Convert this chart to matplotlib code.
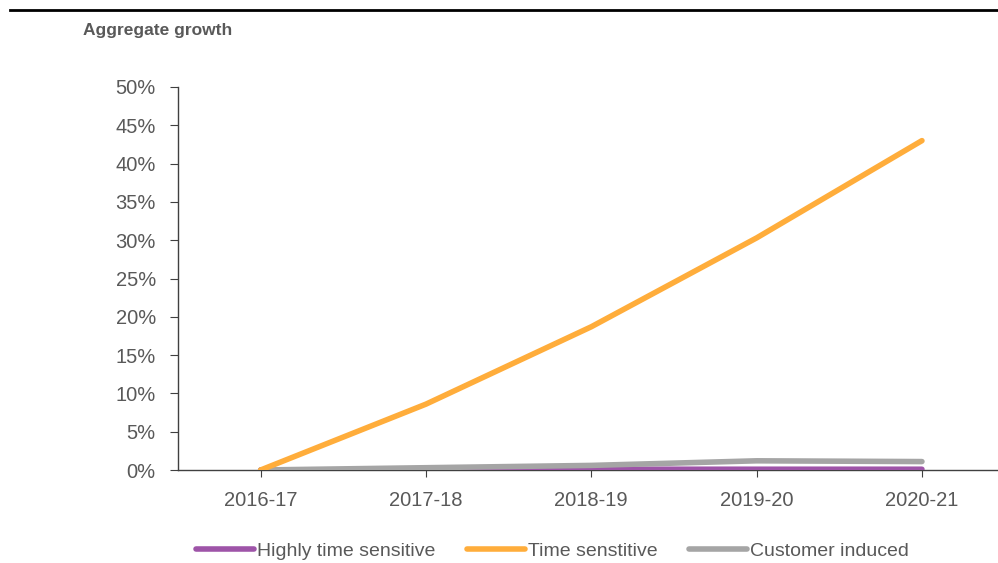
import matplotlib
matplotlib.use("Agg")
import matplotlib.pyplot as plt
from matplotlib.ticker import FuncFormatter

plt.rcParams['font.family'] = ['Liberation Sans', 'DejaVu Sans']

categories = ["2016-17", "2017-18", "2018-19", "2019-20", "2020-21"]
highly_time_sensitive = [0.0, 0.0005, 0.001, 0.001, 0.001]
time_sensitive = [0.0, 0.086, 0.187, 0.303, 0.430]
customer_induced = [0.0, 0.003, 0.006, 0.012, 0.011]

fig = plt.figure(figsize=(9.98, 5.63), dpi=100)
ax = fig.add_axes([178/998, 1-470/563, 1-178/998, (470-87)/563])

x = range(len(categories))
ax.plot(x, highly_time_sensitive, color='#9E54A8', lw=4, label='Highly time sensitive', solid_capstyle='round', zorder=3)
ax.plot(x, time_sensitive, color='#FFAD3B', lw=4, label='Time senstitive', solid_capstyle='round', zorder=4)
ax.plot(x, customer_induced, color='#A5A5A5', lw=4, label='Customer induced', solid_capstyle='round', zorder=3)

ax.set_ylim(0, 0.5)
ax.set_yticks([i*0.05 for i in range(11)])
ax.yaxis.set_major_formatter(FuncFormatter(lambda v, p: f"{round(v*100)}%"))
ax.set_xlim(-0.5, 4.46)
ax.set_xticks(list(x))
ax.set_xticklabels(categories)

for s in ['top', 'right']:
    ax.spines[s].set_visible(False)
for s in ['left', 'bottom']:
    ax.spines[s].set_color('#404040')
    ax.spines[s].set_linewidth(1.0)
ax.tick_params(axis='y', direction='out', length=6, color='#404040', labelsize=14.5, labelcolor='#595959', pad=10)
ax.tick_params(axis='x', direction='out', length=5, color='#404040', labelsize=14.5, labelcolor='#595959', pad=10)

leg = fig.legend(loc='center left', bbox_to_anchor=(196/998, 1-551/563), ncol=3, frameon=False,
                 fontsize=14, handlelength=3.0, columnspacing=1.6, handletextpad=0.15,
                 borderpad=0, borderaxespad=0)
for t in leg.get_texts():
    t.set_color('#595959')

fig.lines.append(plt.Line2D([10/998, 1.0], [1-10/563, 1-10/563], transform=fig.transFigure, color='black', lw=2))
fig.text(83/998, 1-30/563, "Aggregate growth", fontsize=12.5, fontweight='bold', color='#595959', va='center', ha='left')

fig.savefig("out.png", dpi=100)
